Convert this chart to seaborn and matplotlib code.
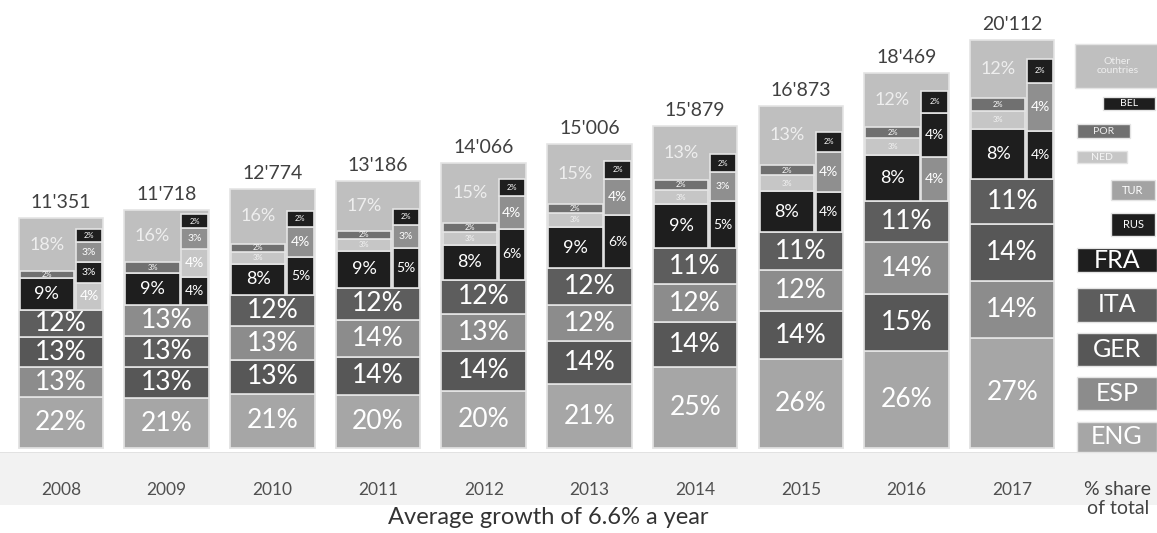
import matplotlib.pyplot as plt
from matplotlib.patches import Rectangle
import matplotlib.transforms as mtrans
import seaborn as sns

# data (shares in % of yearly total)
years = ['2008', '2009', '2010', '2011', '2012', '2013', '2014', '2015', '2016', '2017']
totals = [11351, 11718, 12774, 13186, 14066, 15006, 15879, 16873, 18469, 20112]

eng = [22, 21, 21, 20, 20, 21, 25, 26, 26, 27]
esp = [13, 13, 13, 14, 13, 12, 12, 12, 14, 14]
ger = [13, 13, 13, 14, 14, 14, 14, 14, 15, 14]
ita = [12, 13, 12, 12, 12, 12, 11, 11, 11, 11]
fra = [9, 9, 8, 9, 8, 9, 9, 8, 8, 8]
ned = [4, 4, 3, 3, 3, 3, 3, 3, 3, 3]
por = [2, 3, 2, 2, 2, 2, 2, 2, 2, 2]
rus = [3, 4, 5, 5, 6, 6, 5, 4, 4, 4]
tur = [3, 3, 4, 3, 4, 4, 3, 4, 4, 4]
bel = [2, 2, 2, 2, 2, 2, 2, 2, 2, 2]
other = [18, 16, 16, 17, 15, 15, 13, 13, 12, 12]

shares = {'ENG': eng, 'ESP': esp, 'GER': ger, 'ITA': ita, 'FRA': fra,
          'NED': ned, 'POR': por, 'RUS': rus, 'TUR': tur, 'BEL': bel,
          'Other': other}

# stacking order as drawn in the original, per year
bottom_order = ([['ENG', 'ESP', 'GER', 'ITA'], ['ENG', 'GER', 'ITA', 'ESP']]
                + [['ENG', 'GER', 'ESP', 'ITA']] * 7
                + [['ENG', 'ESP', 'GER', 'ITA']])
left_order = [['FRA', 'POR']] * 2 + [['FRA', 'NED', 'POR']] * 8
right_order = ([['NED', 'RUS', 'TUR', 'BEL'], ['RUS', 'NED', 'TUR', 'BEL']]
               + [['RUS', 'TUR', 'BEL']] * 6
               + [['TUR', 'RUS', 'BEL'], ['RUS', 'TUR', 'BEL']])

colors = {'ENG': '#a6a6a6', 'ESP': '#8c8c8c', 'GER': '#575757', 'ITA': '#5d5d5d',
          'FRA': '#1e1e1e', 'RUS': '#1e1e1e', 'BEL': '#1e1e1e', 'TUR': '#8f8f8f',
          'NED': '#c6c6c6', 'POR': '#707070', 'Other': '#bfbfbf'}

sns.set_theme(style='white')
plt.rcParams['font.family'] = ['Lato', 'DejaVu Sans']

W, H = 1157, 533
fig = plt.figure(figsize=(W / 100, H / 100), dpi=100)
ax = fig.add_axes([0, 0, 1, 1])
fig.patch.set_facecolor('white')

EDGE = '#e4e4e4'
BW = 0.80          # bar width
LW_FR = 0.655      # left column share of bar width
RX_FR = 0.675      # right column start
RW_FR = 0.325
AREA_L, AREA_R = 0.66, 0.34

# faint band under the bars
ax.add_patch(Rectangle((0, (H - 505) / H), 1, 53 / H, transform=ax.transAxes,
                       color='#f2f2f2', zorder=0, lw=0))
ax.add_patch(Rectangle((0, (H - 453) / H), 1.0, 1.5 / H, transform=ax.transAxes,
                       color='#e2e2e2', zorder=0, lw=0))

# full bars = totals, in the "other countries" colour
sns.barplot(x=years, y=totals, color=colors['Other'], saturation=1, width=BW,
            edgecolor=EDGE, linewidth=1.2, ax=ax, zorder=2)


def seg(x0, w, b, h, c):
    ax.bar(x0, h, width=w, bottom=b, align='edge', color=c, edgecolor=EDGE,
           linewidth=1.2, zorder=3)


def lab(x, y, s, size, color='white'):
    ax.text(x, y, s, ha='center', va='center', fontsize=size, color=color, zorder=4)


for i, tot in enumerate(totals):
    x0 = i - BW / 2
    b = 0
    for k in bottom_order[i]:
        h = shares[k][i] / 100 * tot
        seg(x0, BW, b, h, colors[k])
        lab(i, b + h / 2, f'{shares[k][i]}%', 19)
        b += h
    base = b
    # left column
    lx, lw = x0 + 0.01, BW * LW_FR - 0.01
    b = base
    for k in left_order[i]:
        v = shares[k][i]
        h = v / 100 * tot / AREA_L
        seg(lx, lw, b, h, colors[k])
        lab(lx + lw / 2, b + h / 2, f'{v}%', 13 if v >= 5 else 5.5,
            'white' if k != 'NED' else '#f4f4f4')
        b += h
    lab(lx + lw / 2, (b + tot) / 2, f'{other[i]}%', 13, '#eeeeee')
    # right column
    rx, rw = x0 + BW * RX_FR, BW * RW_FR - 0.01
    b = base
    for k in right_order[i]:
        v = shares[k][i]
        h = v / 100 * tot / AREA_R
        seg(rx, rw, b, h, colors[k])
        lab(rx + rw / 2, b + h / 2, f'{v}%', {2: 5.5, 3: 7.5}.get(v, 10))
        b += h
    ax.annotate(f'{tot:,}'.replace(',', "'"), (i, tot), xytext=(0, 5),
                textcoords='offset points', ha='center', va='bottom',
                fontsize=14, color='#404040', zorder=4)

trans = mtrans.blended_transform_factory(ax.transData, ax.transAxes)
for i, y in enumerate(years):
    ax.text(i, (H - 490) / H, y, transform=trans, ha='center', va='center',
            fontsize=12.5, color='#505050')

ax.text(548 / W, (H - 518) / H, 'Average growth of 6.6% a year', transform=ax.transAxes,
        ha='center', va='center', fontsize=17, color='#333333')

# legend boxes (pixel boxes: left, top, right, bottom)
legend = [('Other\ncountries', 'Other', (1075, 44, 1160, 88), 7.5, '#eeeeee'),
          ('BEL', 'BEL', (1103, 97, 1155, 110), 7.5, 'white'),
          ('POR', 'POR', (1077, 124, 1130, 138), 7.5, '#eeeeee'),
          ('NED', 'NED', (1077, 151, 1127, 163), 7.5, '#f4f4f4'),
          ('TUR', 'TUR', (1111, 180, 1155, 200), 8, 'white'),
          ('RUS', 'RUS', (1111, 213, 1155, 236), 8, 'white'),
          ('FRA', 'FRA', (1077, 248, 1157, 272), 18, 'white'),
          ('ITA', 'ITA', (1077, 288, 1157, 322), 18, 'white'),
          ('GER', 'GER', (1077, 333, 1157, 366), 18, 'white'),
          ('ESP', 'ESP', (1077, 377, 1157, 410), 18, 'white'),
          ('ENG', 'ENG', (1077, 422, 1157, 452), 18, 'white')]
leg_col = dict(colors, TUR='#a3a3a3')
for text, key, (l, t, r, bt), fs, tc in legend:
    ax.add_patch(Rectangle((l / W, (H - bt) / H), (r - l) / W, (bt - t) / H,
                           transform=ax.transAxes, facecolor=leg_col[key],
                           edgecolor=EDGE, lw=1, zorder=3, clip_on=False))
    ax.text((l + r) / 2 / W, (H - (t + bt) / 2) / H, text, transform=ax.transAxes,
            ha='center', va='center', fontsize=fs, color=tc, zorder=4,
            linespacing=1.1)
ax.text(1118 / W, (H - 499) / H, '% share\nof total', transform=ax.transAxes,
        ha='center', va='center', fontsize=14, color='#444444', linespacing=1.2)

ax.set_xlim(-0.577, 10.37)
ax.set_ylim(-4190, 22084)
ax.axis('off')

fig.savefig('out.png', dpi=100)
